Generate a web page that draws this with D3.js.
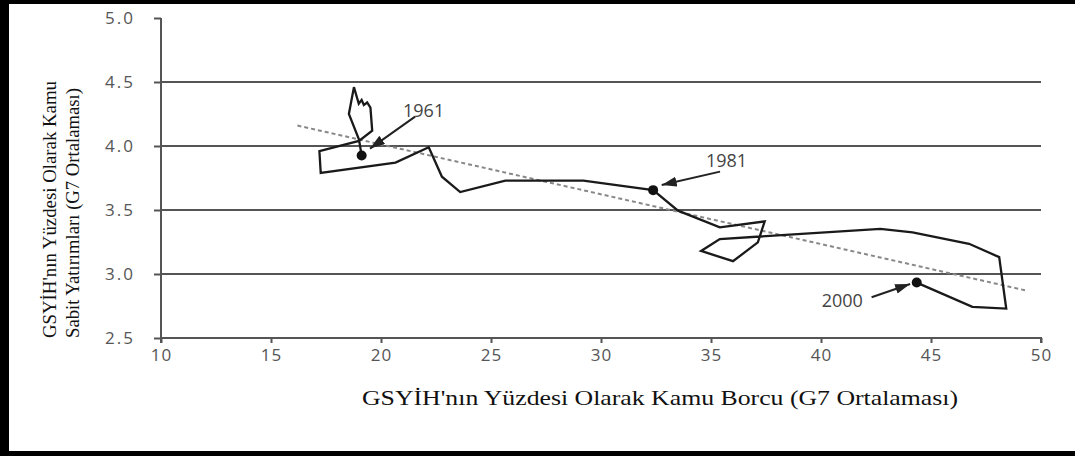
<!DOCTYPE html>
<html>
<head>
<meta charset="utf-8">
<script src="https://cdn.jsdelivr.net/npm/d3@7"></script>
<style>
  body { margin: 0; background: #fff; }
  svg { display: block; }
</style>
</head>
<body>
<div id="chart"></div>
<script>
// public debt (% of GDP) vs public fixed investment (% of GDP), G7 averages, 1961-2000
let debt = [19.12, 19.0, 18.54, 18.77, 18.99, 19.12, 19.22, 19.37, 19.52, 19.6, 19.0,
  17.2, 17.26, 20.66, 22.17, 22.77, 23.6, 25.65, 29.2, 32.37,
  33.5, 35.4, 37.44, 37.13, 36.0, 34.55, 35.4, 42.7, 44.16, 46.73, 48.1, 48.42, 46.88, 44.35];
let invest = [3.926, 4.05, 4.25, 4.46, 4.33, 4.36, 4.32, 4.34, 4.3, 4.12, 4.04,
  3.96, 3.79, 3.87, 3.99, 3.76, 3.64, 3.73, 3.73, 3.655,
  3.495, 3.364, 3.411, 3.247, 3.1, 3.18, 3.273, 3.352, 3.325, 3.236, 3.132, 2.73, 2.743, 2.933];

// trend line end points
let trendX = [16.2, 49.4];
let trendY = [4.16, 2.868];

// marked years
let labels = ["1961", "1981", "2000"];
let labelIndex = [0, 19, 33];
let labelX = [21.0, 34.77, 40.03];
let labelY = [4.227, 3.834, 2.745];
let arrowFromX = [21.55, 35.41, 42.3];
let arrowFromY = [4.23, 3.80, 2.818];
let arrowToX = [19.5, 32.76, 44.05];
let arrowToY = [3.98, 3.695, 2.922];

let xTicks = [10, 15, 20, 25, 30, 35, 40, 45, 50];
let yTicks = [2.5, 3.0, 3.5, 4.0, 4.5, 5.0];

let xTitle = "GSYİH'nın Yüzdesi Olarak Kamu Borcu (G7 Ortalaması)";
let yTitle = ["GSYİH'nın Yüzdesi Olarak Kamu", "Sabit  Yatırımları (G7 Ortalaması)"];

let width = 1075;
let height = 456;
let plotLeft = 161, plotRight = 1041, plotTop = 18, plotBottom = 338;

let xScale = d3.scaleLinear().domain([10, 50]).range([plotLeft, plotRight]);
let yScale = d3.scaleLinear().domain([2.5, 5]).range([plotBottom, plotTop]);

let svg = d3
  .select("#chart")
  .append("svg")
  .attr("width", width)
  .attr("height", height);

svg.append("rect").attr("width", width).attr("height", height).attr("fill", "#fff");

// frame
svg.append("rect").attr("x", 0).attr("y", 0).attr("width", width).attr("height", 4).attr("fill", "#000");
svg.append("rect").attr("x", 0).attr("y", 0).attr("width", 9).attr("height", height).attr("fill", "#000");
svg.append("rect").attr("x", 0).attr("y", 451).attr("width", width).attr("height", 5).attr("fill", "#000");

// gridlines
svg
  .append("g")
  .selectAll("line")
  .data(yTicks.filter((d) => d > 2.5 && d < 5))
  .enter()
  .append("line")
  .attr("x1", plotLeft)
  .attr("x2", plotRight)
  .attr("y1", (d) => yScale(d))
  .attr("y2", (d) => yScale(d))
  .attr("stroke", "#555")
  .attr("stroke-width", 2);

// axes
let xAxis = d3.axisBottom(xScale).tickValues(xTicks).tickSize(5).tickPadding(6).tickFormat(d3.format("d"));
let gx = svg.append("g").attr("transform", `translate(0, ${plotBottom})`).call(xAxis);
gx.select(".domain").attr("d", `M${plotLeft},5V0H${plotRight}V5`).attr("stroke", "#555").attr("stroke-width", 2);
gx.selectAll(".tick line").attr("stroke", "#555").attr("stroke-width", 2);
gx.selectAll(".tick text")
  .attr("fill", "#555")
  .attr("font-family", "'Open Sans', sans-serif")
  .attr("font-size", 17)
  .attr("letter-spacing", 1);

let yAxis = d3.axisLeft(yScale).tickValues(yTicks).tickSize(7).tickPadding(19).tickFormat(d3.format(".1f"));
let gy = svg.append("g").attr("transform", `translate(${plotLeft}, 0)`).call(yAxis);
gy.select(".domain").attr("d", `M0,${plotTop}V${plotBottom}`).attr("stroke", "#555").attr("stroke-width", 2);
gy.selectAll(".tick line").attr("stroke", "#555").attr("stroke-width", 2);
gy.selectAll(".tick text")
  .attr("fill", "#555")
  .attr("font-family", "'Open Sans', sans-serif")
  .attr("font-size", 17)
  .attr("letter-spacing", 2);

// trend line
svg
  .append("line")
  .attr("x1", xScale(trendX[0]))
  .attr("y1", yScale(trendY[0]))
  .attr("x2", xScale(trendX[1]))
  .attr("y2", yScale(trendY[1]))
  .attr("stroke", "#888")
  .attr("stroke-width", 2)
  .attr("stroke-dasharray", "4,3");

// path of the years
let points = debt.map((d, i) => [d, invest[i]]);
let line = d3.line().x((d) => xScale(d[0])).y((d) => yScale(d[1]));
svg
  .append("path")
  .datum(points)
  .attr("d", line)
  .attr("fill", "none")
  .attr("stroke", "#1a1a1a")
  .attr("stroke-width", 2.3)
  .attr("stroke-linejoin", "miter");

svg
  .selectAll("circle.year")
  .data(labelIndex)
  .enter()
  .append("circle")
  .attr("class", "year")
  .attr("cx", (d) => xScale(debt[d]))
  .attr("cy", (d) => yScale(invest[d]))
  .attr("r", 5)
  .attr("fill", "#111");

// arrows
svg
  .append("defs")
  .append("marker")
  .attr("id", "head")
  .attr("markerUnits", "userSpaceOnUse")
  .attr("markerWidth", 16)
  .attr("markerHeight", 12)
  .attr("refX", 15)
  .attr("refY", 5)
  .attr("orient", "auto")
  .append("path")
  .attr("d", "M0,0L15,5L0,10Z")
  .attr("fill", "#222");

svg
  .selectAll("line.arrow")
  .data(labels)
  .enter()
  .append("line")
  .attr("class", "arrow")
  .attr("x1", (d, i) => xScale(arrowFromX[i]))
  .attr("y1", (d, i) => yScale(arrowFromY[i]))
  .attr("x2", (d, i) => xScale(arrowToX[i]))
  .attr("y2", (d, i) => yScale(arrowToY[i]))
  .attr("stroke", "#222")
  .attr("stroke-width", 2)
  .attr("marker-end", "url(#head)");

svg
  .selectAll("text.year")
  .data(labels)
  .enter()
  .append("text")
  .attr("class", "year")
  .attr("x", (d, i) => xScale(labelX[i]))
  .attr("y", (d, i) => yScale(labelY[i]))
  .attr("fill", "#444")
  .attr("font-family", "'Open Sans', sans-serif")
  .attr("font-size", 18)
  .text((d) => d);

// axis titles
svg
  .append("text")
  .attr("x", 362)
  .attr("y", 405)
  .attr("font-family", "'Liberation Serif', 'Times New Roman', serif")
  .attr("font-size", 22)
  .attr("fill", "#111")
  .attr("textLength", 596)
  .attr("lengthAdjust", "spacingAndGlyphs")
  .text(xTitle);

svg
  .selectAll("text.ytitle")
  .data(yTitle)
  .enter()
  .append("text")
  .attr("class", "ytitle")
  .attr("transform", (d, i) => `translate(${56 + i * 23}, 338) rotate(-90)`)
  .attr("font-family", "'Liberation Serif', 'Times New Roman', serif")
  .attr("font-size", 19)
  .attr("fill", "#111")
  .attr("textLength", (d, i) => (i === 0 ? 257 : 250))
  .attr("lengthAdjust", "spacingAndGlyphs")
  .text((d) => d);
</script>
</body>
</html>
